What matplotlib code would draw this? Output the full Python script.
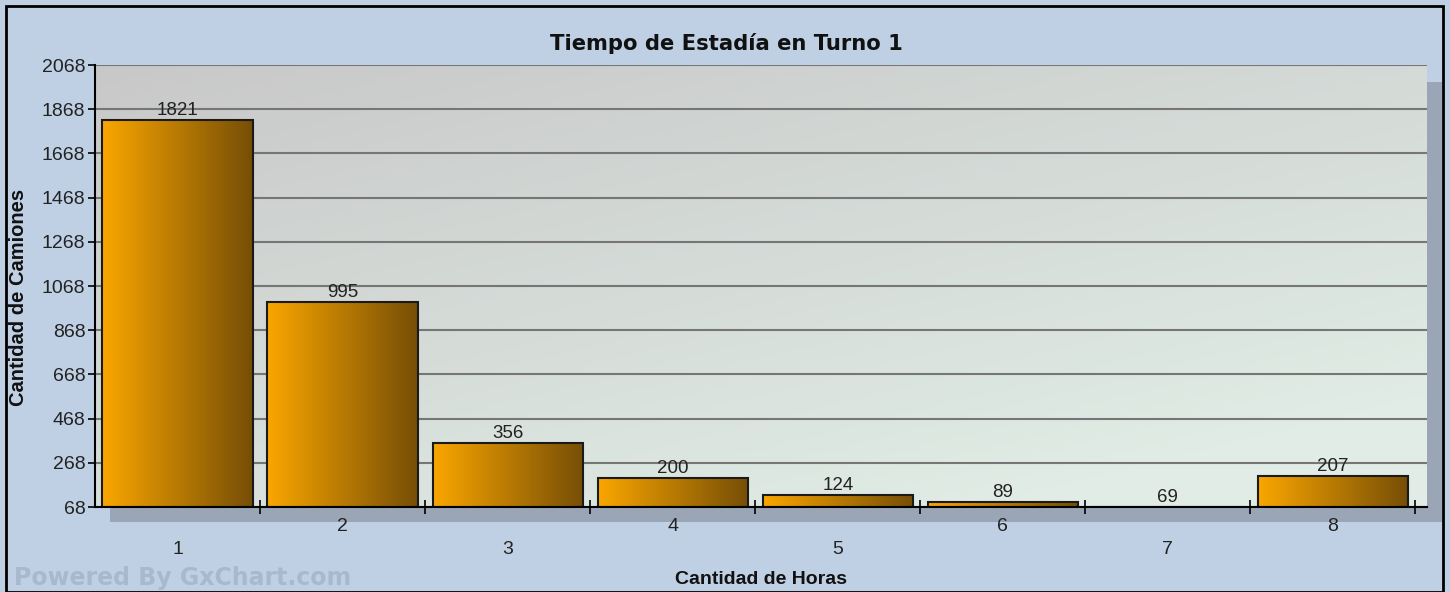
import numpy as np
import matplotlib.pyplot as plt
from matplotlib.patches import Rectangle

# data
horas = [1, 2, 3, 4, 5, 6, 7, 8]
camiones = [1821, 995, 356, 200, 124, 89, 69, 207]
yticks = [68, 268, 468, 668, 868, 1068, 1268, 1468, 1668, 1868, 2068]

W, H = 1450, 592
fig = plt.figure(figsize=(W / 100, H / 100), dpi=100)
fig.patch.set_facecolor('#bfd0e4')

def px(x0, y0, x1, y1):
    # pixel box (top-left origin) -> figure fraction rect
    return [x0 / W, 1 - y1 / H, (x1 - x0) / W, (y1 - y0) / H]

FONT = ['Liberation Sans', 'DejaVu Sans']

# drop shadow behind plot area
fig.patches.append(Rectangle((110 / W, 1 - 522 / H), (1442 - 110) / W, (522 - 82) / H,
                             transform=fig.transFigure, facecolor='#9aa6b6', edgecolor='none', zorder=-2))
# outer border
fig.patches.append(Rectangle((6 / W, 0), (1443 - 6) / W, 1 - 6 / H, transform=fig.transFigure,
                             fill=False, edgecolor='black', linewidth=2, zorder=3))

ax = fig.add_axes(px(95, 65, 1427, 507))
ax.set_zorder(2)
x0, x1 = 0.5, 8.57
y0, y1 = 68, 2068
ax.set_xlim(x0, x1)
ax.set_ylim(y0, y1)

# plot background gradient (grey top-left -> pale green bottom-right)
gx, gy = np.meshgrid(np.linspace(0, 1, 200), np.linspace(0, 1, 100))
t = np.clip((gx * 0.6 + gy * 0.8) / 1.2, 0, 1)
c0 = np.array([200, 200, 200]) / 255
c1 = np.array([224, 236, 229]) / 255
bg = c0 + (c1 - c0) * t[..., None]
ax.imshow(bg, extent=[x0, x1, y0, y1], origin='upper', aspect='auto', zorder=0)

ax.set_yticks(yticks)
ax.yaxis.grid(True, color='#767676', linewidth=1.5, zorder=1)
ax.set_axisbelow(True)

# bars with horizontal orange -> brown gradient
grad = np.linspace(0, 1, 256)[None, :]
cl = np.array([250, 166, 0]) / 255
cr = np.array([118, 78, 6]) / 255
bar_img = cl + (cr - cl) * grad[..., None]
bars = ax.bar(horas, np.array(camiones) - y0, bottom=y0, width=0.91,
              facecolor='none', edgecolor='#1a1a1a', linewidth=1.5, zorder=3)
for b in bars:
    bx, by = b.get_x(), b.get_y()
    im = ax.imshow(bar_img, extent=[bx, bx + b.get_width(), by, by + b.get_height()],
                   aspect='auto', zorder=2)
    im.set_clip_path(b)

for h, v in zip(horas, camiones):
    ax.text(h, v + 4, str(v), ha='center', va='bottom', fontsize=13.5,
            family=FONT, color='#222222', zorder=4)

# x ticks at category boundaries, labels staggered
ax.set_xticks([h + 0.5 for h in horas])
ax.set_xticklabels([])
ax.tick_params(axis='x', direction='inout', length=10, width=1.2, color='black')
ax.tick_params(axis='y', direction='out', length=5, width=1.2, color='black',
               labelsize=14, labelcolor='#222222', pad=2)
for lab in ax.get_yticklabels():
    lab.set_family(FONT)
for h in horas:
    off = -0.025 if h % 2 == 0 else -0.077
    ax.text(h, off, str(h), transform=ax.get_xaxis_transform(), ha='center', va='top',
            fontsize=14, family=FONT, color='#222222')

for s in ['top', 'right']:
    ax.spines[s].set_visible(False)
for s in ['left', 'bottom']:
    ax.spines[s].set_color('black')
    ax.spines[s].set_linewidth(1.5)
    ax.spines[s].set_zorder(5)

fig.text(726 / W, 1 - 44 / H, 'Tiempo de Estadía en Turno 1', ha='center', va='center',
         fontsize=15.2, fontweight='bold', family='DejaVu Sans', color='#111111')
fig.text(19 / W, 1 - 297 / H, 'Cantidad de Camiones', ha='center', va='center', rotation=90,
         fontsize=14.5, fontweight='bold', family=FONT, color='#111111')
fig.text(761 / W, 1 - 580 / H, 'Cantidad de Horas', ha='center', va='center',
         fontsize=14, fontweight='bold', family=FONT, color='#111111')
fig.text(14 / W, 1 - 578 / H, 'Powered By GxChart.com', ha='left', va='center',
         fontsize=17, fontweight='bold', family='DejaVu Sans', color='#a9b9cd')

fig.savefig('out.png', dpi=100, facecolor=fig.get_facecolor())
